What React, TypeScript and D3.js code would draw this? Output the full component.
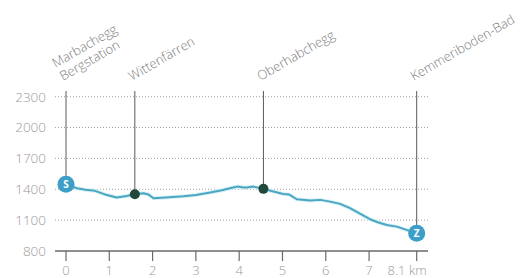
import React from 'react';
import * as d3 from 'd3';

// elevation profile (km, m)
const profileKm = [0, 0.25, 0.45, 0.67, 0.9, 1.17, 1.4, 1.59, 1.79, 1.9, 2.02, 2.3, 2.71, 3.0, 3.33, 3.6, 3.86, 3.96, 4.1, 4.17, 4.33, 4.56, 4.79, 5.02, 5.15, 5.33, 5.64, 5.87, 6.1, 6.33, 6.56, 6.8, 7.02, 7.2, 7.41, 7.64, 7.9, 8.1];
const profileElev = [1450, 1410, 1395, 1385, 1350, 1320, 1335, 1352, 1362, 1350, 1313, 1320, 1333, 1345, 1368, 1390, 1417, 1426, 1418, 1417, 1426, 1404, 1378, 1355, 1350, 1303, 1290, 1297, 1280, 1258, 1216, 1160, 1109, 1080, 1053, 1037, 1000, 972];

// waypoints
const wpNames = [['Marbachegg', 'Bergstation'], ['Wittenfärren'], ['Oberhabchegg'], ['Kemmeriboden-Bad']];
const wpKm = [0, 1.59, 4.56, 8.1];
const wpElev = [1450, 1352, 1404, 972];
const wpType = ['S', '', '', 'Z'];

const yTicks = [800, 1100, 1400, 1700, 2000, 2300];
const xTicks = [0, 1, 2, 3, 4, 5, 6, 7, 8.1];

const W = 525;
const H = 278;

export default function App() {
  const x = d3.scaleLinear().domain([0, 8.1]).range([66, 416.7]);
  const y = d3.scaleLinear().domain([800, 2300]).range([251, 96.7]);

  const pts: [number, number][] = profileKm.map((k, i) => [k, profileElev[i]]);
  const line = d3.line<[number, number]>()
    .x(d => x(d[0]))
    .y(d => y(d[1]));
  const path = line(pts) || '';

  const font = "'Open Sans', 'DejaVu Sans', sans-serif";
  const gray = '#9a9a9a';
  const angle = -30;

  return (
    <svg width={W} height={H} style={{ position: 'absolute', left: 0, top: 0, background: '#fff' }} fontFamily={font}>
      {/* grid */}
      {yTicks.filter(t => t > 800).map(t => (
        <line key={t} x1={55} x2={428} y1={y(t)} y2={y(t)}
          stroke="#a0a0a0" strokeWidth={1} strokeDasharray="1,2" />
      ))}
      {yTicks.map(t => (
        <text key={t} x={46} y={y(t)} dy="0.36em" textAnchor="end"
          fontSize={13.5} fill={gray} fontWeight={300}>{t}</text>
      ))}

      {/* x axis */}
      <line x1={55} x2={428} y1={251} y2={251} stroke="#6a6a6a" strokeWidth={1.5} />
      {xTicks.map(t => (
        <g key={t}>
          <line x1={x(t)} x2={x(t)} y1={251} y2={261} stroke="#6a6a6a" strokeWidth={1.2} />
          <text x={t === 8.1 ? x(t) + 10 : x(t)} y={275} textAnchor={t === 8.1 ? 'end' : 'middle'}
            fontSize={13} fill={gray} fontWeight={300}>{t === 8.1 ? '8.1 km' : t}</text>
        </g>
      ))}

      {/* waypoint stems */}
      {wpKm.map((k, i) => (
        <line key={i} x1={x(k)} x2={x(k)} y1={91} y2={y(wpElev[i])} stroke="#5a5a5a" strokeWidth={1} />
      ))}

      {/* profile */}
      <path d={path} fill="none" stroke="#daf2f6" strokeWidth={4} strokeLinejoin="round" />
      <path d={path} fill="none" stroke="#4aa6c2" strokeWidth={2} strokeLinejoin="round" />

      {/* waypoint markers */}
      {wpKm.map((k, i) => wpType[i] ? (
        <g key={i}>
          <circle cx={x(k)} cy={y(wpElev[i])} r={8.5} fill="#3d9fc8" />
          <text x={x(k)} y={y(wpElev[i])} dy="0.36em" textAnchor="middle" fontSize={10}
            fontWeight={700} fill="#fff">{wpType[i]}</text>
        </g>
      ) : (
        <circle key={i} cx={x(k)} cy={y(wpElev[i])} r={5} fill="#22483b" />
      ))}

      {/* waypoint labels */}
      {wpKm.map((k, i) => {
        const names = wpNames[i];
        return (
          <text key={i} transform={`translate(${x(k) - 3},81) rotate(${angle})`}
            fontSize={13} fill="#7c7c7c" fontWeight={300}>
            {names.map((n, j) => (
              <tspan key={j} x={0} dy={j === 0 ? -(names.length - 1) * 15 : 15}>{n}</tspan>
            ))}
          </text>
        );
      })}
    </svg>
  );
}
